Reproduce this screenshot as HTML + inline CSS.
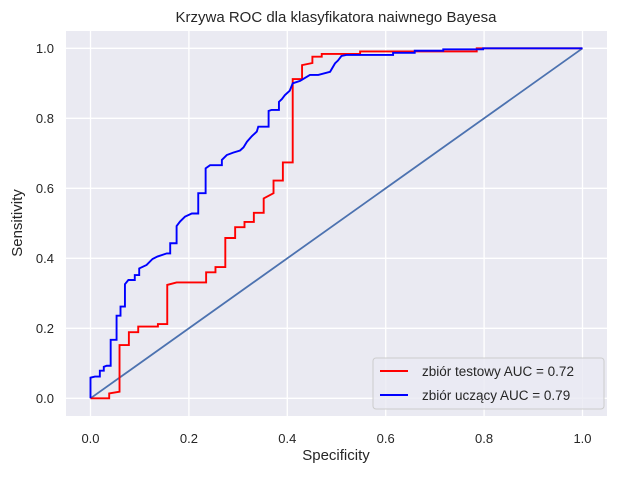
<!DOCTYPE html>
<html><head><meta charset="utf-8"><style>
body{margin:0;background:#fff;}
svg text{font-family:"Liberation Sans","DejaVu Sans",sans-serif;fill:#262626;}
</style></head><body>
<svg id="chart" width="617" height="473">
<rect x="66" y="31" width="541" height="385" fill="#eaeaf2"/>
<g id="grid"></g>
<g id="ticks"></g>
<g id="series"></g>
<text x="336" y="22" text-anchor="middle" font-size="15">Krzywa ROC dla klasyfikatora naiwnego Bayesa</text>
<text x="336" y="460" text-anchor="middle" font-size="15">Specificity</text>
<text x="22" y="223" text-anchor="middle" font-size="15" transform="rotate(-90 22 223)">Sensitivity</text>
<g>
<rect x="373" y="358" width="231" height="51" rx="3" fill="#eaeaf2" fill-opacity="0.8" stroke="#cccccc"/>
<line x1="380" y1="371" x2="408" y2="371" stroke="#ff0000" stroke-width="2"/>
<text x="422" y="376" font-size="13.5">zbiór testowy AUC = 0.72</text>
<line x1="380" y1="395" x2="408" y2="395" stroke="#0000ff" stroke-width="2"/>
<text x="422" y="400" font-size="13.5">zbiór uczący AUC = 0.79</text>
</g>
</svg>
<script>
const ticks=[0,0.2,0.4,0.6,0.8,1.0];
const tickLabels=["0.0","0.2","0.4","0.6","0.8","1.0"];
const testFpr=[0,0.038,0.038,0.059,0.059,0.078,0.078,0.097,0.097,0.137,0.137,0.156,0.156,0.175,0.235,0.235,0.254,0.254,0.274,0.274,0.294,0.294,0.313,0.313,0.332,0.332,0.352,0.352,0.372,0.372,0.391,0.391,0.411,0.411,0.43,0.43,0.451,0.451,0.47,0.47,0.548,0.548,0.785,0.785,1];
const testTpr=[0,0,0.014,0.019,0.152,0.152,0.189,0.189,0.205,0.205,0.212,0.212,0.324,0.331,0.331,0.36,0.36,0.375,0.375,0.458,0.458,0.489,0.489,0.504,0.504,0.53,0.53,0.571,0.586,0.622,0.622,0.674,0.674,0.912,0.912,0.952,0.958,0.976,0.976,0.984,0.984,0.991,0.991,1,1];
const trainFpr=[0,0,0.009,0.019,0.019,0.027,0.027,0.033,0.041,0.041,0.053,0.053,0.061,0.061,0.07,0.07,0.077,0.09,0.09,0.099,0.099,0.114,0.126,0.136,0.155,0.162,0.162,0.175,0.175,0.182,0.192,0.206,0.219,0.219,0.234,0.234,0.243,0.267,0.267,0.277,0.29,0.304,0.311,0.318,0.328,0.338,0.341,0.362,0.362,0.368,0.383,0.383,0.389,0.395,0.405,0.411,0.426,0.446,0.463,0.487,0.497,0.503,0.51,0.52,0.615,0.615,0.659,0.659,0.717,0.717,0.798,0.798,1];
const trainTpr=[0,0.059,0.062,0.062,0.079,0.079,0.09,0.093,0.093,0.167,0.167,0.236,0.236,0.262,0.262,0.326,0.338,0.338,0.352,0.352,0.371,0.381,0.398,0.405,0.414,0.414,0.443,0.443,0.492,0.505,0.519,0.528,0.528,0.586,0.586,0.657,0.666,0.666,0.681,0.695,0.702,0.708,0.717,0.733,0.749,0.762,0.776,0.776,0.821,0.824,0.824,0.847,0.855,0.866,0.879,0.9,0.907,0.924,0.924,0.933,0.957,0.965,0.978,0.981,0.981,0.987,0.987,0.993,0.993,0.997,0.997,1,1];
const diagX=[0,1], diagY=[0,1];
const NS='http://www.w3.org/2000/svg';
const sx=v=>90.5+v*492, sy=v=>398.3-v*350;
function mk(t,a,p){const e=document.createElementNS(NS,t);for(const k in a)e.setAttribute(k,a[k]);p.appendChild(e);return e;}
const grid=document.getElementById('grid'),tk=document.getElementById('ticks'),se=document.getElementById('series');
ticks.forEach((t,i)=>{
 let l=mk('line',{x1:sx(t),x2:sx(t),y1:31,y2:416,stroke:'#fff','stroke-width':1.3},grid);
 
 
 l=mk('line',{x1:66,x2:607,y1:sy(t),y2:sy(t),stroke:'#fff','stroke-width':1.3},grid);
 
 
 let x=mk('text',{x:sx(t),y:443,'text-anchor':'middle','font-size':13},tk);x.textContent=tickLabels[i];
 
 
 let y=mk('text',{x:54,y:sy(t)+4.5,'text-anchor':'end','font-size':13},tk);y.textContent=tickLabels[i];
 
 
});
function line(xs,ys,c,w,name){
 const p=mk('polyline',{points:xs.map((x,i)=>sx(x)+','+sy(ys[i])).join(' '),fill:'none',stroke:c,'stroke-width':w,'stroke-linejoin':'miter'},se);
 
 
}
line(diagX,diagY,'#4c72b0',1.8,'diagonal-reference-line');
line(testFpr,testTpr,'#ff0000',1.9,'test-roc-curve');
line(trainFpr,trainTpr,'#0000ff',1.9,'train-roc-curve');
</script>
</body></html>
